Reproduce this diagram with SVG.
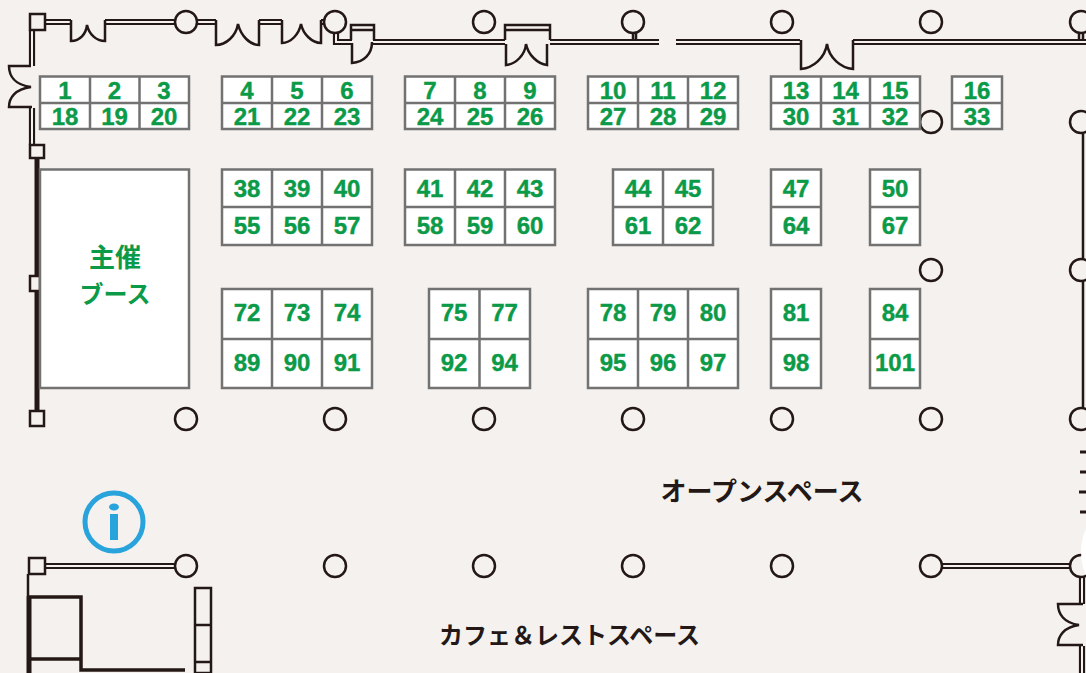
<svg xmlns="http://www.w3.org/2000/svg" width="1086" height="673" viewBox="0 0 1086 673">
<style>
.b{fill:#fff;stroke:#727272;stroke-width:2.5}
.n{font:bold 24px "Liberation Sans",Arial,sans-serif;fill:#0b9a48;stroke:#0b9a48;stroke-width:.4;text-anchor:middle}
.j{font-family:"Noto Sans CJK JP",sans-serif;font-weight:700;text-anchor:middle}
.g{fill:#0b9a48;font-size:25px}
.k{fill:#231815;font-size:26px}
.l{fill:none;stroke:#231815;stroke-width:2.5}
.t{fill:none;stroke:#231815;stroke-width:5}
.m{fill:none;stroke:#231815;stroke-width:3.500}
.o{fill:none;stroke:#231815;stroke-width:6.200}
.i{fill:none;stroke:#f4f1ee;stroke-width:2}
.s{fill:#f4f1ee;stroke:#231815;stroke-width:2.500}
</style>
<defs>
<path id="dw" d="M45 22H71M105 22H176M196 22H216M259 22H282M321 22H326M336 33V42H352M373 42H505M550 42H659M676 42H800M853 42H1086M45 566H176M942 566H1072M32 30V66M32 108V145M1082 577V604M1082 646V673"/>
</defs>
<rect width="1086" height="673" fill="#f4f1ee"/>
<g id="walls">
<use href="#dw" class="o"/><use href="#dw" class="i"/>
<path class="l" d="M31 66H9C9 76 15 85 31 87C15 89 9 98 9 107H32"/>
<path class="l" d="M71 20V41C80 41 86 34 87 25C89 34 96 41 105 41V20"/>
<path class="l" d="M216 20V45C226 45 236 36 238 24C241 36 250 45 259 45V20"/>
<path class="l" d="M282 20V43C291 43 299 34 301 24C303 34 312 43 321 43V20"/>
<path class="l" d="M351 40V25H374V40M351 30H374M352 43V63C364 62 372 54 372 42"/>
<path class="l" d="M505 40V25H550V40M505 30H550M506 44V65C516 64 525 55 526 44C528 55 538 64 547 65V44"/>
<path class="l" d="M801 40V69C813 68 825 58 827 44C829 58 841 68 853 69V40"/>
<path class="l" d="M633 33V40M636 33V40M1079 33V40M1083 33V40"/>
<path class="t" d="M37 158V411"/>
<path class="l" d="M1083 134V409"/>
<path class="t" style="stroke-width:2.800" d="M1080 452H1086M1080 472H1086M1079 492H1086M1080 512H1086"/>
<path class="l" d="M1083 604H1058C1058 614 1064 623 1079 625C1064 627 1058 636 1058 645H1083"/>
<path class="l" d="M28 574V596"/>
<path class="t" d="M29 596V673"/>
<path class="m" d="M29 597H81V670H185M29 659H81"/>
<path class="l" d="M195 588H211V673H195ZM195 625H211M195 662H211"/>
<rect class="s" x="30" y="14" width="15" height="16"/>
<rect class="s" x="30" y="145" width="14" height="13"/>
<rect class="s" x="30" y="276" width="10" height="15"/>
<rect class="s" x="30" y="411" width="14" height="15"/>
<rect class="s" x="29" y="558" width="16" height="16"/>
</g>
<g id="columns">
<circle class="s" cx="186" cy="22" r="11"/><circle class="s" cx="335" cy="22" r="11"/><circle class="s" cx="484" cy="22" r="11"/><circle class="s" cx="633" cy="22" r="11"/><circle class="s" cx="782" cy="22" r="11"/><circle class="s" cx="931" cy="22" r="11"/><circle class="s" cx="1081" cy="22" r="11"/>
<circle class="s" cx="931" cy="122" r="11"/><circle class="s" cx="1081" cy="122" r="11"/><circle class="s" cx="931" cy="270" r="11"/><circle class="s" cx="1081" cy="270" r="11"/>
<circle class="s" cx="186" cy="419" r="11"/><circle class="s" cx="335" cy="419" r="11"/><circle class="s" cx="484" cy="419" r="11"/><circle class="s" cx="633" cy="419" r="11"/><circle class="s" cx="782" cy="419" r="11"/><circle class="s" cx="931" cy="419" r="11"/><circle class="s" cx="1081" cy="419" r="11"/>
<circle class="s" cx="186" cy="566" r="11"/><circle class="s" cx="335" cy="566" r="11"/><circle class="s" cx="484" cy="566" r="11"/><circle class="s" cx="633" cy="566" r="11"/><circle class="s" cx="782" cy="566" r="11"/><circle class="s" cx="931" cy="566" r="11"/><circle class="s" cx="1081" cy="566" r="11"/>
<ellipse cx="1100" cy="552" rx="19" ry="34" fill="#fff"/>
</g>
<g id="booths">
<rect class="b" x="40" y="76.5" width="149" height="52.5"/><rect class="b" x="222" y="76.5" width="150" height="52.5"/><rect class="b" x="405" y="76.5" width="150" height="52.5"/><rect class="b" x="588" y="76.5" width="150" height="52.5"/><rect class="b" x="771" y="76.5" width="149" height="52.5"/><rect class="b" x="952" y="76.5" width="50" height="52.5"/>
<path class="b" d="M40 103H189M222 103H372M405 103H555M588 103H738M771 103H920M952 103H1002M90 76.5V129M139.500 76.5V129M272 76.5V129M322 76.500V129M455 76.500V129M505 76.500V129M638 76.500V129M688 76.500V129M821 76.500V129M870 76.500V129"/>
<rect class="b" x="222" y="169.500" width="150" height="75.500"/><rect class="b" x="405" y="169.500" width="150" height="75.500"/><rect class="b" x="613" y="169.500" width="100" height="75.500"/><rect class="b" x="771" y="169.500" width="50" height="75.500"/><rect class="b" x="870" y="169.500" width="50" height="75.500"/>
<path class="b" d="M222 207H372M405 207H555M613 207H713M771 207H821M870 207H920M272 169.500V245M322 169.500V245M455 169.500V245M505 169.500V245M663 169.500V245"/>
<rect class="b" x="222" y="289" width="150" height="99"/><rect class="b" x="429" y="289" width="101" height="99"/><rect class="b" x="588" y="289" width="150" height="99"/><rect class="b" x="771" y="289" width="50" height="99"/><rect class="b" x="870" y="289" width="50" height="99"/>
<path class="b" d="M222 339H372M429 339H530M588 339H738M771 339H821M870 339H920M272 289V388M322 289V388M479.500 289V388M638 289V388M688 289V388"/>
<g id="host"><rect class="b" x="40" y="169.500" width="149" height="218.500"/><text class="j g" x="115" y="267" style="font-size:26px">主催</text><text class="j g" x="115" y="303" style="font-size:24px">ブース</text></g>
<text class="n" y="98.500"><tspan x="65">1</tspan><tspan x="114.500">2</tspan><tspan x="164">3</tspan><tspan x="247">4</tspan><tspan x="297">5</tspan><tspan x="347">6</tspan><tspan x="430">7</tspan><tspan x="480">8</tspan><tspan x="530">9</tspan><tspan x="613">10</tspan><tspan x="663">11</tspan><tspan x="713">12</tspan><tspan x="796">13</tspan><tspan x="845.500">14</tspan><tspan x="895">15</tspan><tspan x="977">16</tspan></text>
<text class="n" y="124.500"><tspan x="65">18</tspan><tspan x="114.500">19</tspan><tspan x="164">20</tspan><tspan x="247">21</tspan><tspan x="297">22</tspan><tspan x="347">23</tspan><tspan x="430">24</tspan><tspan x="480">25</tspan><tspan x="530">26</tspan><tspan x="613">27</tspan><tspan x="663">28</tspan><tspan x="713">29</tspan><tspan x="796">30</tspan><tspan x="845.500">31</tspan><tspan x="895">32</tspan><tspan x="977">33</tspan></text>
<text class="n" y="197"><tspan x="247">38</tspan><tspan x="297">39</tspan><tspan x="347">40</tspan><tspan x="430">41</tspan><tspan x="480">42</tspan><tspan x="530">43</tspan><tspan x="638">44</tspan><tspan x="688">45</tspan><tspan x="796">47</tspan><tspan x="895">50</tspan></text>
<text class="n" y="234"><tspan x="247">55</tspan><tspan x="297">56</tspan><tspan x="347">57</tspan><tspan x="430">58</tspan><tspan x="480">59</tspan><tspan x="530">60</tspan><tspan x="638">61</tspan><tspan x="688">62</tspan><tspan x="796">64</tspan><tspan x="895">67</tspan></text>
<text class="n" y="321"><tspan x="247">72</tspan><tspan x="297">73</tspan><tspan x="347">74</tspan><tspan x="454">75</tspan><tspan x="504.500">77</tspan><tspan x="613">78</tspan><tspan x="663">79</tspan><tspan x="713">80</tspan><tspan x="796">81</tspan><tspan x="895">84</tspan></text>
<text class="n" y="371"><tspan x="247">89</tspan><tspan x="297">90</tspan><tspan x="347">91</tspan><tspan x="454">92</tspan><tspan x="504.500">94</tspan><tspan x="613">95</tspan><tspan x="663">96</tspan><tspan x="713">97</tspan><tspan x="796">98</tspan><tspan x="895">101</tspan></text>
</g>
<g id="info"><circle cx="114" cy="522" r="29" fill="none" stroke="#29a3dc" stroke-width="5"/><ellipse cx="114" cy="507" rx="5" ry="3.500" fill="#29a3dc"/><rect x="110" y="514" width="8" height="26" fill="#29a3dc"/></g>
<g id="labels"><text class="j k" x="762" y="501">オープンスペース</text><text class="j k" x="569.500" y="644" style="font-size:24px">カフェ＆レストスペース</text></g>
</svg>
